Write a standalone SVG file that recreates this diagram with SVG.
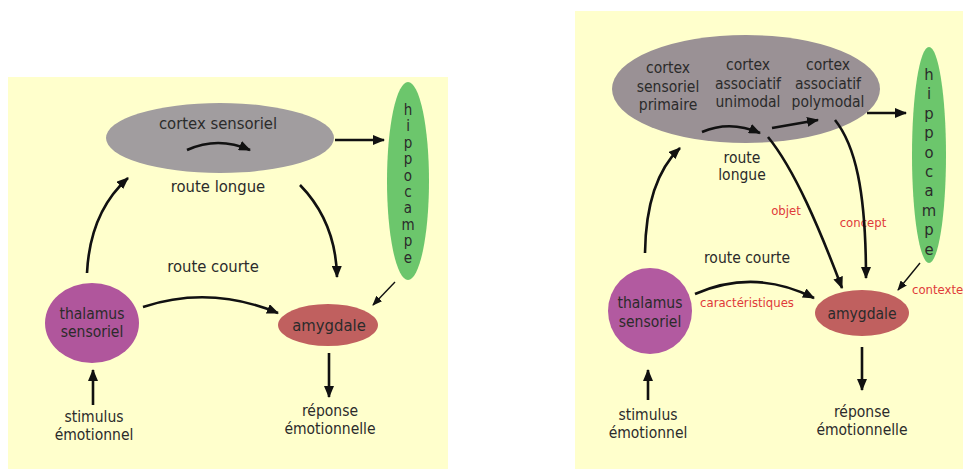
<svg xmlns="http://www.w3.org/2000/svg" width="963" height="469" viewBox="0 0 963 469">
<style>
text{font-family:"DejaVu Sans Condensed","DejaVu Sans","Liberation Sans",sans-serif;fill:#2b2b2b;text-anchor:middle}
.l{font-size:16.5px}
.l2{font-size:15.5px}
.r{font-size:15.5px}
.red{fill:#e03a3a;font-size:13px}
.hip{font-size:15px}
.conn path{fill:none;stroke:#111;stroke-width:2.6}
.conn path.thin{stroke-width:1.4}
</style>
<defs>
<marker id="ah" markerUnits="userSpaceOnUse" viewBox="0 0 12 10" refX="11" refY="5" markerWidth="12" markerHeight="10" orient="auto">
<path d="M0,0 L12,5 L0,10 z" fill="#111"/>
</marker>
<marker id="ahs" markerUnits="userSpaceOnUse" viewBox="0 0 10 8" refX="9" refY="4" markerWidth="10" markerHeight="8" orient="auto">
<path d="M0,0 L10,4 L0,8 z" fill="#111"/>
</marker>
</defs>
<rect x="0" y="0" width="963" height="469" fill="#ffffff"/>
<rect x="8" y="77" width="440" height="392" fill="#ffffcc"/>
<rect x="575" y="11" width="388" height="458" fill="#ffffcc"/>

<!-- LEFT PANEL -->
<g id="L-cortex"><ellipse cx="220" cy="138" rx="114" ry="35" fill="#a19d9f"/><text class="l" x="218" y="129">cortex sensoriel</text></g>
<g id="L-hippocampe"><ellipse cx="408" cy="181" rx="21" ry="99" fill="#6cc66c"/>
<text class="hip" x="408" y="115"><tspan x="408">h</tspan><tspan x="408" dy="16.4">i</tspan><tspan x="408" dy="16.4">p</tspan><tspan x="408" dy="16.4">p</tspan><tspan x="408" dy="16.4">o</tspan><tspan x="408" dy="16.4">c</tspan><tspan x="408" dy="16.4">a</tspan><tspan x="408" dy="16.4">m</tspan><tspan x="408" dy="16.4">p</tspan><tspan x="408" dy="16.4">e</tspan></text></g>
<g id="L-thalamus"><ellipse cx="92" cy="323" rx="47" ry="40" fill="#b0569c"/><text class="l2" x="92" y="319">thalamus</text><text class="l2" x="92" y="337">sensoriel</text></g>
<g id="L-amygdale"><ellipse cx="328" cy="325" rx="50" ry="21" fill="#c0605f"/><text class="l" x="329" y="331">amygdale</text></g>
<g id="L-stimulus"><text class="l2" x="94" y="422">stimulus</text><text class="l2" x="94" y="440">émotionnel</text></g>
<g id="L-reponse"><text class="l2" x="330" y="416">réponse</text><text class="l2" x="330" y="434">émotionnelle</text></g>
<g id="L-labels"><text class="l" x="218" y="192">route longue</text><text class="l" x="213" y="272">route courte</text></g>

<!-- RIGHT PANEL -->
<g id="R-cortex"><ellipse cx="746" cy="89" rx="134" ry="54" fill="#9a9195"/>
<text class="r" x="668" y="73">cortex</text><text class="r" x="668" y="92">sensoriel</text><text class="r" x="668" y="110">primaire</text>
<text class="r" x="748" y="70">cortex</text><text class="r" x="748" y="89">associatif</text><text class="r" x="748" y="107">unimodal</text>
<text class="r" x="828" y="70">cortex</text><text class="r" x="828" y="89">associatif</text><text class="r" x="828" y="107">polymodal</text></g>
<g id="R-hippocampe"><ellipse cx="929" cy="155" rx="17" ry="108" fill="#6cc66c"/>
<text class="hip" style="font-size:16.5px" x="929" y="80"><tspan x="929">h</tspan><tspan x="929" dy="19.4">i</tspan><tspan x="929" dy="19.4">p</tspan><tspan x="929" dy="19.4">p</tspan><tspan x="929" dy="19.4">o</tspan><tspan x="929" dy="19.4">c</tspan><tspan x="929" dy="19.4">a</tspan><tspan x="929" dy="19.4">m</tspan><tspan x="929" dy="19.4">p</tspan><tspan x="929" dy="19.4">e</tspan></text></g>
<g id="R-thalamus"><ellipse cx="650" cy="311" rx="42" ry="43" fill="#b25aa0"/><text class="r" x="650" y="308">thalamus</text><text class="r" x="650" y="327">sensoriel</text></g>
<g id="R-amygdale"><ellipse cx="862" cy="313" rx="47" ry="23" fill="#c0605f"/><text class="r" x="862" y="319">amygdale</text></g>
<g id="R-stimulus"><text class="r" x="648" y="420">stimulus</text><text class="r" x="648" y="438">émotionnel</text></g>
<g id="R-reponse"><text class="r" x="862" y="417">réponse</text><text class="r" x="862" y="435">émotionnelle</text></g>
<g id="R-labels"><text class="r" x="742" y="163">route</text><text class="r" x="742" y="180">longue</text><text class="r" x="747" y="263">route courte</text>
<text class="red" x="786" y="215">objet</text><text class="red" x="863" y="227">concept</text><text class="red" x="747" y="307">caractéristiques</text><text class="red" x="912" y="294" style="text-anchor:start">contexte</text></g>

<g id="connectors" class="conn">
<path d="M93,405 L93,370" marker-end="url(#ah)"/>
<path d="M87,273 Q90,212 128,178" marker-end="url(#ah)"/>
<path d="M335,140 L384,140" marker-end="url(#ah)"/>
<path d="M187,150 Q218,136 250,150" marker-end="url(#ah)"/>
<path d="M300,185 Q336,222 337,277" marker-end="url(#ah)"/>
<path d="M143,307 Q210,285 278,313" marker-end="url(#ah)"/>
<path class="thin" d="M395,282 L373,305" marker-end="url(#ahs)"/>
<path d="M329,353 L329,397" marker-end="url(#ah)"/>

<path d="M648,400 L648,370" marker-end="url(#ah)"/>
<path d="M645,253 Q646,180 680,148" marker-end="url(#ah)"/>
<path d="M702,132 Q730,120 760,133" marker-end="url(#ah)"/>
<path d="M772,128 L818,120" marker-end="url(#ah)"/>
<path d="M867,113 L906,113" marker-end="url(#ah)"/>
<path d="M768,137 C795,170 820,230 842,288" marker-end="url(#ah)"/>
<path d="M835,120 C855,145 866,190 866,278" marker-end="url(#ah)"/>
<path d="M695,294 Q755,268 814,298" marker-end="url(#ah)"/>
<path class="thin" d="M920,263 L898,290" marker-end="url(#ahs)"/>
<path d="M862,347 L862,390" marker-end="url(#ah)"/>
</g>
</svg>
